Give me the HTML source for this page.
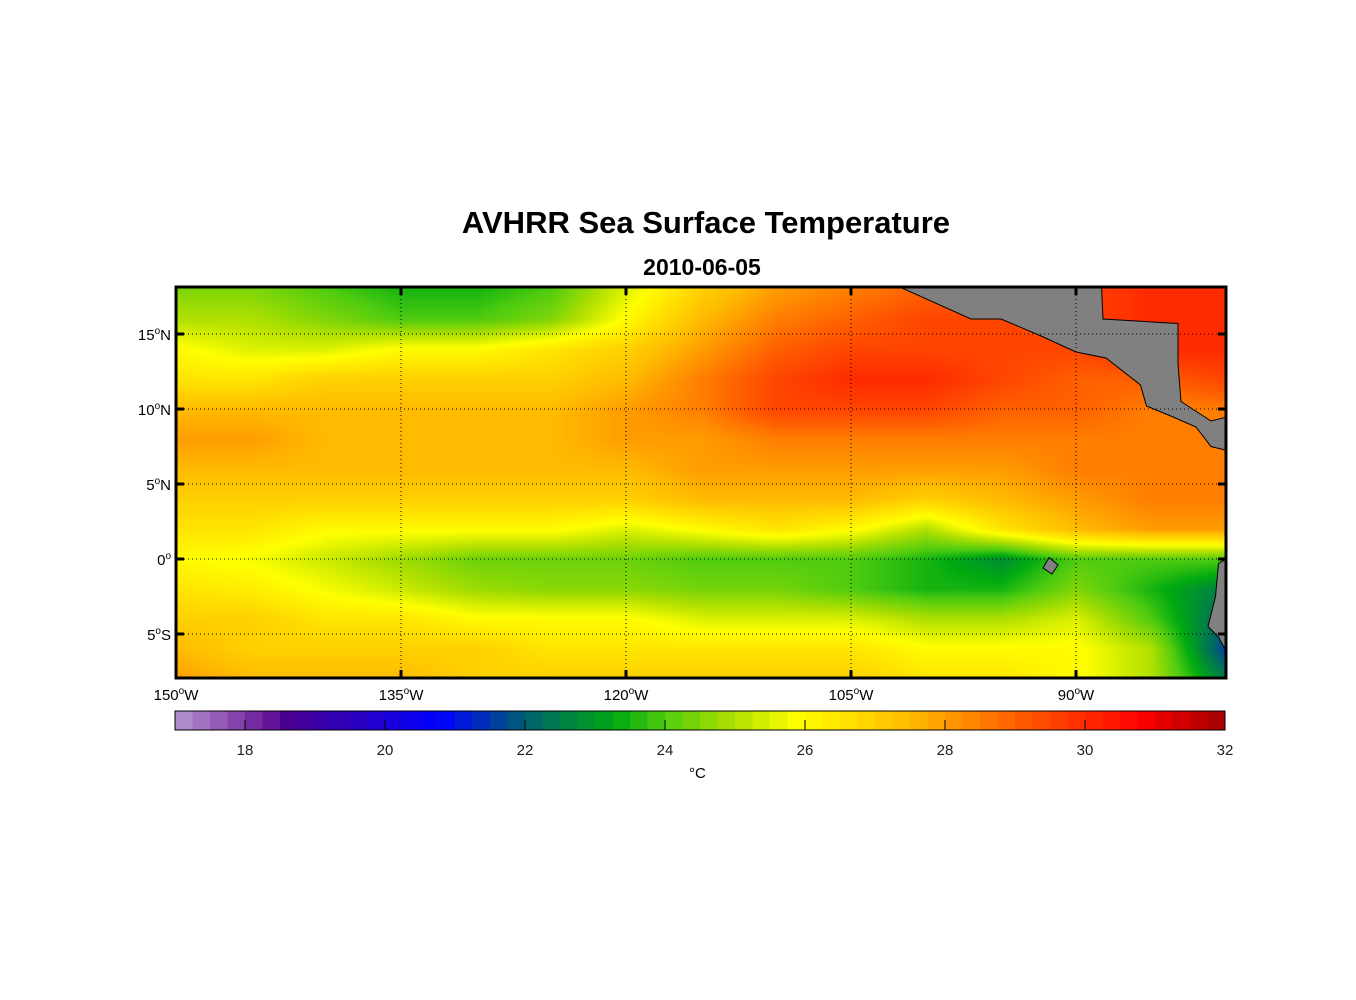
<!DOCTYPE html>
<html><head><meta charset="utf-8"><style>
body{margin:0;background:#fff;width:1356px;height:1000px;position:relative;font-family:"Liberation Sans",sans-serif;overflow:hidden}
.t{position:absolute;color:#000}
</style></head><body>
<div class="t" style="left:0;width:1412px;top:205px;text-align:center;font-size:31px;font-weight:bold">AVHRR Sea Surface Temperature</div>
<div class="t" style="left:0;width:1404px;top:254px;text-align:center;font-size:23px;font-weight:bold">2010-06-05</div>
<canvas id="map" width="1050" height="391" style="position:absolute;left:176px;top:287px"></canvas>
<svg id="ov" width="1356" height="1000" style="position:absolute;left:0;top:0"></svg>
<div class="t" style="left:689px;top:765px;font-size:15px">°C</div>
<script>
const lons=[150,145,140,135,130,125,120,115,110,105,100,95,90,85,80];
const lats=[18,16,14,12,10,8,6,4,2,0,-2,-4,-6,-8];
const sst=[
[24.5,24.5,24,23.5,23.5,24,25.5,27,28,28.5,29,29,29.5,30,30],
[25,25,24.5,24,24,24.5,26,27.5,28.5,29,29.5,29.5,29.5,30,30],
[26,25.5,25.5,26,26,26.5,27,28,29,29.5,29.5,29.5,29.5,30,30],
[26.5,26.5,27,27,27,27,27.5,28.5,29.5,30,30,29.5,29,29,29.5],
[27.5,27.5,27.5,27.5,27.5,27.5,28,28.5,29.5,29.5,29.5,29,29,28.5,28.5],
[28,28,27.5,27.5,27.5,27.5,28,28,28.5,28.5,28.5,28.5,28.5,28.5,28.5],
[27.5,27.5,27.5,27.5,27.5,27.5,27.5,28,28,28,28,28,28.5,28.5,28.5],
[27,27,27,27,27,27,27,27.5,27.5,27.5,27,27.5,28,28.5,28.5],
[26.5,26.5,26,26,26,26,25.5,26,26.5,26,25,26.5,27.5,28,28],
[26,25.8,25.3,24.8,24.3,24.3,24.3,24,24,24,23.5,22.8,24,24,24],
[26.5,26.3,25.8,25.3,24.8,24.6,24.6,24.4,24.4,24,23.5,23.5,24.5,23.5,22.5],
[27,27,26.5,26.5,26,26,26,25.5,25.5,25.5,25,25,25.5,24,22],
[27.5,27,27,27,27,26.5,26.5,26.5,26.5,26.5,26,26,26,25,21.5],
[28,27.5,27.5,27.5,27,27,27,27,27,27,26.5,26.5,26,25,22.5]];
const xTicks=[150,135,120,105,90];
const yTicks=[15,10,5,0,-5];
const cbTicks=[18,20,22,24,26,28,30,32];
const cmapT=[17,18.3,18.6,20.8,22,23.3,24,25,25.9,27.5,29,30.8,32];
const cmapC=[[184,152,208],[106,26,152],[74,0,144],[0,0,255],[0,96,112],[0,170,16],[80,204,16],[176,224,0],[255,255,0],[255,187,0],[255,96,0],[255,0,0],[160,0,0]];
const landMain=[[101.9,18.2],[97,16],[95,16],[92.4,14.9],[90,13.8],[88,13.4],[85.7,11.6],[85.3,10.2],[83.6,9.5],[82,8.8],[81,7.5],[79.8,7.2],[79.8,9.5],[81,9.2],[83,10.5],[83.2,13],[83.2,15.7],[88.2,16],[88.3,18.2]];
const landSA=[[79.8,0.1],[80.5,-0.3],[80.7,-2.5],[81.2,-4.5],[80.5,-5.2],[79.8,-6.5]];
const landGal=[[91.8,0.1],[91.2,-0.4],[91.6,-1],[92.2,-0.6]];
const X=lon=>176+(150-lon)*15, Y=lat=>559-lat*15;
const CBX=v=>175+(v-17)*70;
function cmap(v){v=Math.max(17,Math.min(32,v));for(let i=0;i<cmapT.length-1;i++){if(v<=cmapT[i+1]){const f=(v-cmapT[i])/(cmapT[i+1]-cmapT[i]);return cmapC[i].map((c,k)=>Math.round(c+(cmapC[i+1][k]-c)*f));}}return cmapC[cmapC.length-1];}
const cv=document.getElementById('map'),ctx=cv.getContext('2d'),W=1050,H=391,img=ctx.createImageData(W,H);
for(let py=0;py<H;py++){const lat=(559-(287+py))/15;let fj=(lats[0]-lat)/(lats[0]-lats[1]);fj=Math.max(0,Math.min(lats.length-1.0001,fj));const j=Math.floor(fj),tj=fj-j;
for(let px=0;px<W;px++){const lon=150-px/15;let fi=(lons[0]-lon)/(lons[0]-lons[1]);fi=Math.max(0,Math.min(lons.length-1.0001,fi));const i=Math.floor(fi),ti=fi-i;
const v=(sst[j][i]*(1-ti)+sst[j][i+1]*ti)*(1-tj)+(sst[j+1][i]*(1-ti)+sst[j+1][i+1]*ti)*tj;const c=cmap(v),o=(py*W+px)*4;img.data[o]=c[0];img.data[o+1]=c[1];img.data[o+2]=c[2];img.data[o+3]=255;}}
ctx.putImageData(img,0,0);
const ov=document.getElementById('ov'),NS='http://www.w3.org/2000/svg';
function mk(t,a){const e=document.createElementNS(NS,t);for(const k in a)e.setAttribute(k,a[k]);ov.appendChild(e);return e;}
ov.innerHTML='<defs><clipPath id="cp"><rect x="176" y="287" width="1050" height="391"/></clipPath></defs>';
const g=mk('g',{'clip-path':'url(#cp)'});
[[landMain,'land-central-america'],[landSA,'land-south-america'],[landGal,'land-galapagos']].forEach(([p,n])=>{const e=document.createElementNS(NS,'polygon');e.setAttribute('points',p.map(q=>X(q[0])+','+Y(q[1])).join(' '));e.setAttribute('fill','#808080');e.setAttribute('stroke','#000');e.setAttribute('stroke-width','1');


g.appendChild(e);});
xTicks.forEach(v=>{const x=X(v);const l=mk('line',{x1:x,x2:x,y1:287,y2:678,stroke:'#000','stroke-dasharray':'1,3','stroke-width':1});


mk('line',{x1:x,x2:x,y1:287,y2:295,stroke:'#000','stroke-width':3});mk('line',{x1:x,x2:x,y1:670,y2:678,stroke:'#000','stroke-width':3});
const t=mk('text',{x:x,y:700,'text-anchor':'middle','font-size':15,'font-family':'Liberation Sans'});t.innerHTML=v+'<tspan dy="-6" font-size="10">o</tspan><tspan dy="6">W</tspan>';

});
yTicks.forEach(v=>{const y=Y(v);const l=mk('line',{x1:176,x2:1226,y1:y,y2:y,stroke:'#000','stroke-dasharray':'1,3','stroke-width':1});


mk('line',{x1:176,x2:184,y1:y,y2:y,stroke:'#000','stroke-width':3});mk('line',{x1:1218,x2:1226,y1:y,y2:y,stroke:'#000','stroke-width':3});
const t=mk('text',{x:171,y:y+6,'text-anchor':'end','font-size':15,'font-family':'Liberation Sans'});t.innerHTML=Math.abs(v)+'<tspan dy="-6" font-size="10">o</tspan><tspan dy="6">'+(v>0?'N':v<0?'S':'')+'</tspan>';

});
const fr=mk('rect',{x:176,y:287,width:1050,height:391,fill:'none',stroke:'#000','stroke-width':3});


for(let k=0;k<60;k++){const v0=17+k*0.25;const c=cmap(v0+0.125);mk('rect',{x:CBX(v0),y:711,width:17.8,height:19,fill:'rgb('+c.join(',')+')'});}
const cb=mk('rect',{x:175,y:711,width:1050,height:19,fill:'none',stroke:'#000','stroke-width':1});


cbTicks.forEach(v=>{const x=CBX(v);mk('line',{x1:x,x2:x,y1:720,y2:730,stroke:'#000','stroke-width':1});
const t=mk('text',{x:x,y:755,'text-anchor':'middle','font-size':15,'font-family':'Liberation Sans',fill:'#222'});t.textContent=v;

});
</script>
</body></html>
